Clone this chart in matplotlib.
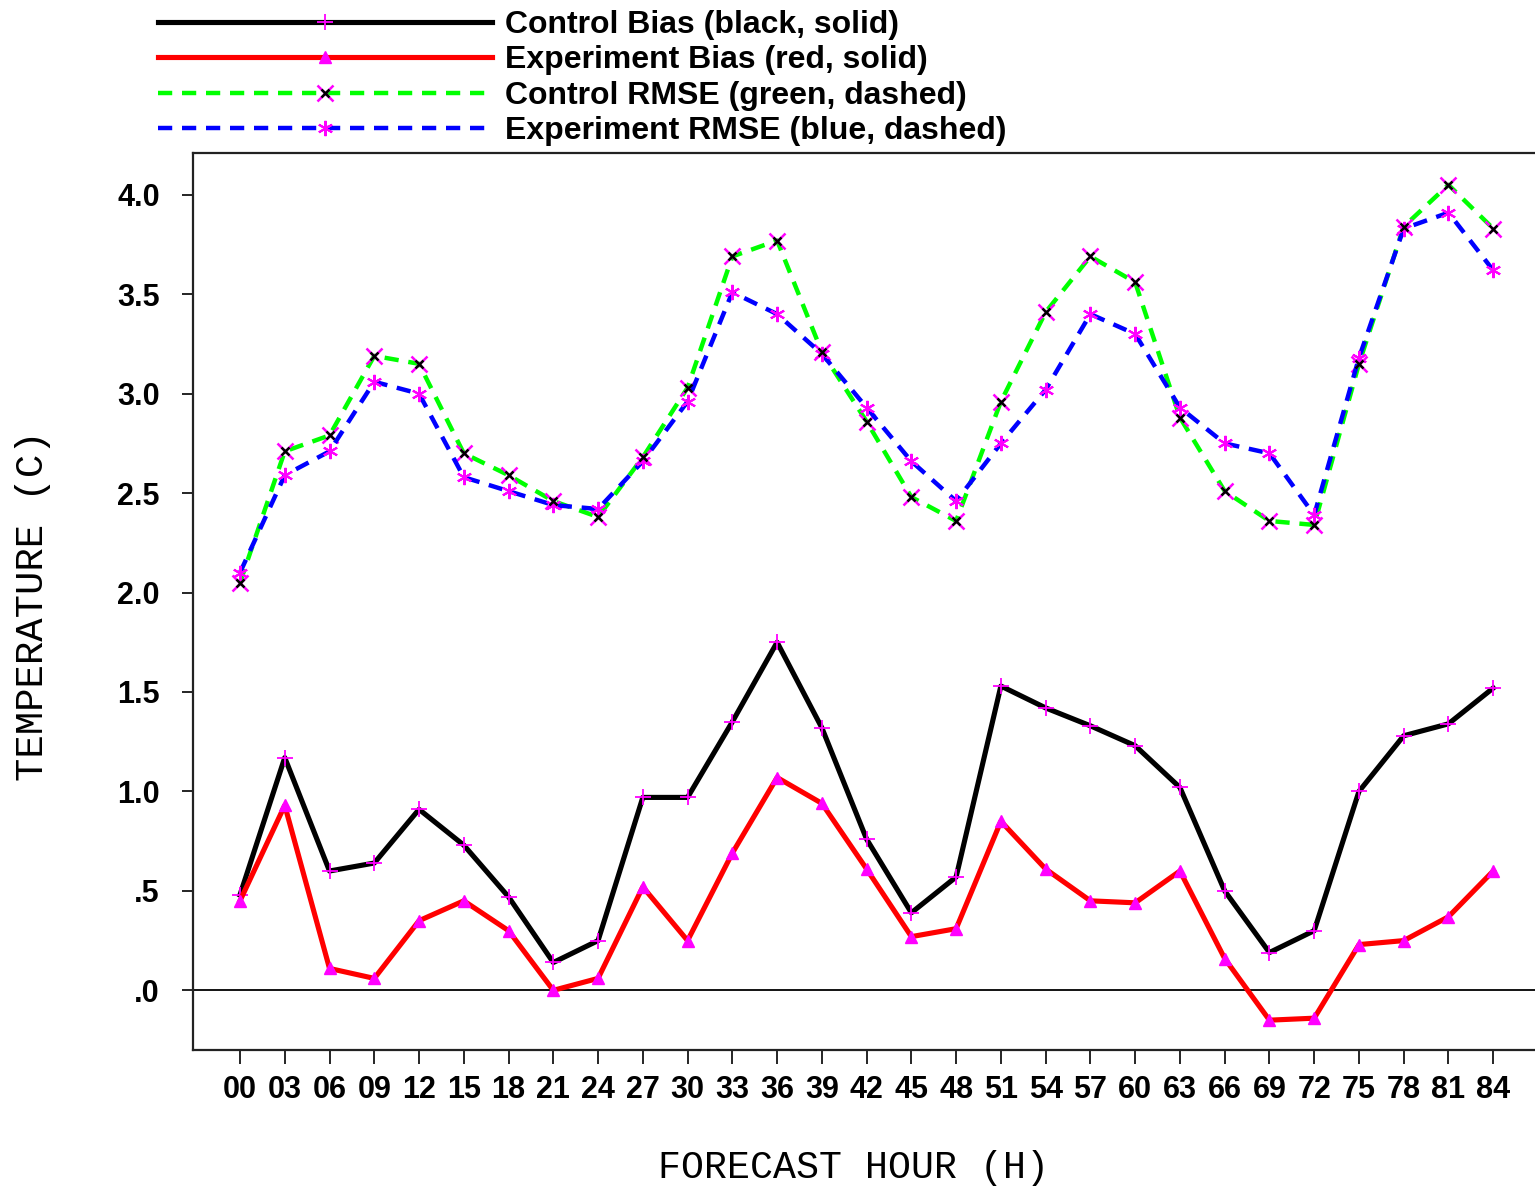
import matplotlib
matplotlib.use("Agg")
import matplotlib.pyplot as plt
from matplotlib.legend_handler import HandlerTuple

# forecast hours and tick labels
hours = list(range(0, 85, 3))
hour_labels = ["%02d" % h for h in hours]

ctrl_bias = [0.48, 1.17, 0.60, 0.64, 0.91, 0.73, 0.47, 0.14, 0.25, 0.97,
             0.97, 1.35, 1.75, 1.32, 0.76, 0.39, 0.57, 1.53, 1.42, 1.33,
             1.23, 1.02, 0.50, 0.19, 0.30, 1.00, 1.28, 1.34, 1.52]
expt_bias = [0.45, 0.93, 0.11, 0.06, 0.35, 0.45, 0.30, 0.00, 0.06, 0.52,
             0.25, 0.69, 1.07, 0.94, 0.61, 0.27, 0.31, 0.85, 0.61, 0.45,
             0.44, 0.60, 0.16, -0.15, -0.14, 0.23, 0.25, 0.37, 0.60]
ctrl_rmse = [2.05, 2.71, 2.79, 3.19, 3.15, 2.70, 2.59, 2.46, 2.38, 2.68,
             3.03, 3.69, 3.77, 3.21, 2.86, 2.48, 2.36, 2.96, 3.41, 3.69,
             3.56, 2.88, 2.51, 2.36, 2.34, 3.15, 3.84, 4.05, 3.83]
expt_rmse = [2.10, 2.59, 2.71, 3.06, 3.00, 2.58, 2.51, 2.44, 2.42, 2.66,
             2.96, 3.51, 3.40, 3.20, 2.93, 2.66, 2.46, 2.75, 3.02, 3.40,
             3.30, 2.93, 2.75, 2.70, 2.39, 3.18, 3.83, 3.91, 3.62]

ytick_vals = [0.0, 0.5, 1.0, 1.5, 2.0, 2.5, 3.0, 3.5, 4.0]
ytick_labels = [".0", ".5", "1.0", "1.5", "2.0", "2.5", "3.0", "3.5", "4.0"]

labels = ["Control Bias (black, solid)", "Experiment Bias (red, solid)",
          "Control RMSE (green, dashed)", "Experiment RMSE (blue, dashed)"]

plt.rcParams["font.family"] = ["Liberation Sans", "DejaVu Sans"]
plt.rcParams["font.weight"] = "bold"

fig = plt.figure(figsize=(15.35, 11.88), dpi=100)
ax = fig.add_axes([193 / 1535, 1 - 1050 / 1188, 1 - 193 / 1535, 897 / 1188])

magenta = "#ff00ff"
dash = (0, (3.2, 2.2))

ax.axhline(0, color="black", lw=1.3, zorder=1)

l_gr, = ax.plot(hours, ctrl_rmse, color="#00ff00", lw=3.2, ls=dash,
                marker="x", ms=11, mew=1.8, mec=magenta, zorder=3)
m_gr, = ax.plot(hours, ctrl_rmse, ls="none", marker="x", ms=6, mew=1.8,
                mec="black", zorder=4)
l_bl, = ax.plot(hours, expt_rmse, color="#0000ff", lw=3.2, ls=dash,
                marker=(6, 2, 0), ms=11, mew=1.5, mec=magenta, zorder=3)
l_bk, = ax.plot(hours, ctrl_bias, color="black", lw=3.7,
                marker="+", ms=11, mew=1.3, mec=magenta, zorder=5)
l_rd, = ax.plot(hours, expt_bias, color="#ff0000", lw=3.7,
                marker="^", ms=9, mec=magenta, mfc=magenta, zorder=5)

ax.set_xlim(-3.15, 86.8)
ax.set_ylim(-0.30, 4.21)
ax.set_xticks(hours)
ax.set_xticklabels(hour_labels)
ax.set_yticks(ytick_vals)
ax.set_yticklabels(ytick_labels)
ax.tick_params(axis="x", direction="out", length=10, width=1.2, pad=8,
               labelsize=22)
ax.tick_params(axis="y", direction="out", length=8, width=1.2, pad=16,
               labelsize=22)

for side in ["left", "top", "bottom"]:
    ax.spines[side].set_linewidth(1.6)
    ax.spines[side].set_color("#222222")
ax.spines["right"].set_visible(False)

ax.set_xlabel("FORECAST HOUR (H)", family="Liberation Mono",
              fontweight="normal", fontsize=27.5)
ax.xaxis.set_label_coords(0.4925, -0.1316)
ax.xaxis.label.set_va("center")
ax.set_ylabel("TEMPERATURE (C)", family="Liberation Mono",
              fontweight="normal", fontsize=28)
ax.yaxis.set_label_coords(-0.119, 0.495)
ax.yaxis.label.set_va("center")

fig.legend([l_bk, l_rd, (l_gr, m_gr), l_bl], labels,
           handler_map={tuple: HandlerTuple(ndivide=1, pad=0)},
           loc="upper left", bbox_to_anchor=(158 / 1535, 1 - 10 / 1188),
           frameon=False, fontsize=23, handlelength=10.47, handletextpad=0.4,
           labelspacing=0.17, borderpad=0, borderaxespad=0, numpoints=1)

fig.savefig("out.png", dpi=100)
